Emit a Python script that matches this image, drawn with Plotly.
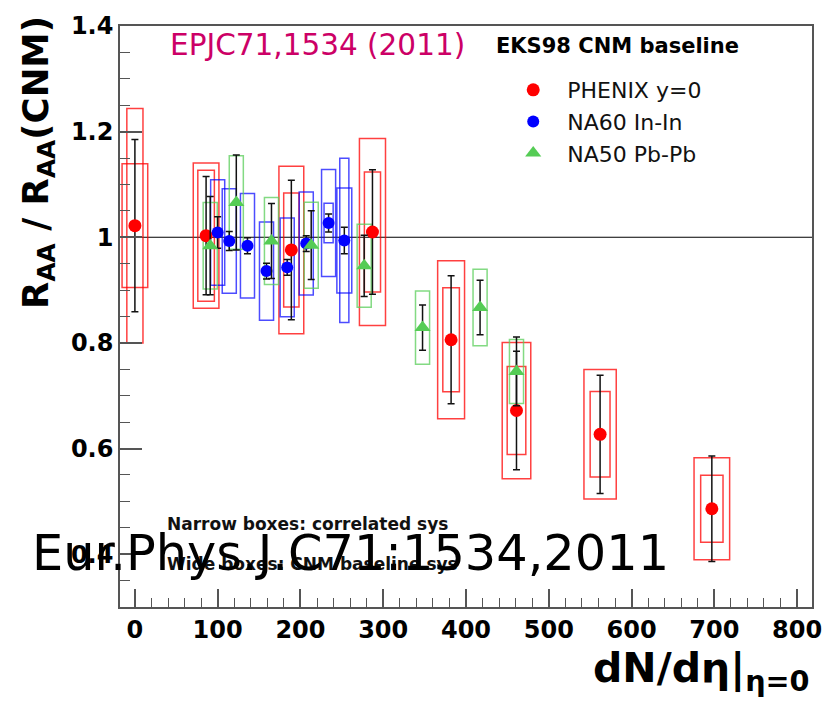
import plotly.graph_objects as go

# ---------------- data ----------------
# PHENIX y=0 (Au+Au)
phenix_x = [0, 86, 189, 287, 382, 461, 562, 697]
phenix_y = [1.022, 1.003, 0.976, 1.010, 0.806, 0.672, 0.627, 0.486]
phenix_stat = [0.163, 0.112, 0.132, 0.118, 0.121, 0.112, 0.112, 0.100]
phenix_corr = [0.222, 0.124, 0.108, 0.1135, 0.0985, 0.0835, 0.081, 0.0635]   # narrow boxes
phenix_cnm = [0.117, 0.1375, 0.1585, 0.177, 0.1495, 0.129, 0.1225, 0.0965]   # wide boxes
phenix_corr_w = [19.5, 20, 18.5, 19.5, 20, 22.5, 24, 27]
phenix_cnm_w = [31, 31, 30, 31.5, 32.5, 34.5, 39, 43]

# NA60 In-In
na60_x = [100, 114, 136, 159, 184, 207, 234, 253]
na60_y = [1.009, 0.993, 0.984, 0.936, 0.943, 0.988, 1.027, 0.994]
na60_stat = [0.030, 0.018, 0.015, 0.015, 0.015, 0.015, 0.017, 0.025]
na60_corr = [None, None, None, None, None, None, 0.0375, 0.1555]
na60_cnm = [0.100, 0.099, 0.099, 0.093, 0.0935, 0.0975, 0.1015, 0.0995]
na60_corr_w = [11, 11, 11, 11, 11, 11, 11, 11]
na60_cnm_w = [17, 17, 17, 17, 17, 17, 17, 18]

# NA50 Pb-Pb
na50_x = [91, 122.5, 165, 213, 277, 347.5, 417, 461]
na50_y = [0.984, 1.066, 0.993, 0.985, 0.946, 0.829, 0.867, 0.746]
na50_stat = [0.093, 0.090, 0.071, 0.065, 0.058, 0.043, 0.0515, 0.065]
na50_cnm = [0.082, 0.0885, 0.0825, 0.0815, 0.0785, 0.0695, 0.0725, 0.0605]
na50_cnm_w = [17, 17, 17, 17, 17, 17, 17, 17]

x_ticks = [0, 100, 200, 300, 400, 500, 600, 700, 800]
y_ticks = [0.4, 0.6, 0.8, 1.0, 1.2, 1.4]
y_ticktext = ["0.4", "0.6", "0.8", "1", "1.2", "1.4"]

FONT = "DejaVu Sans"
RED = "#ff0000"
BLUE = "#0000ff"
GREEN = "#55cc55"


def box_shapes(xs, ys, halves, widths, color):
    out = []
    for x, y, h, w in zip(xs, ys, halves, widths):
        if h is None:
            continue
        out.append(dict(type="rect", xref="x", yref="y",
                        x0=x - w / 2, x1=x + w / 2, y0=y - h, y1=y + h,
                        line=dict(color=color, width=1.5),
                        fillcolor="rgba(0,0,0,0)", layer="below"))
    return out


shapes = []
shapes += box_shapes(phenix_x, phenix_y, phenix_cnm, phenix_cnm_w, "rgba(255,0,0,0.75)")
shapes += box_shapes(phenix_x, phenix_y, phenix_corr, phenix_corr_w, "rgba(255,0,0,0.75)")
shapes += box_shapes(na60_x, na60_y, na60_cnm, na60_cnm_w, "rgba(0,0,255,0.7)")
shapes += box_shapes(na60_x, na60_y, na60_corr, na60_corr_w, "rgba(0,0,255,0.7)")
shapes += box_shapes(na50_x, na50_y, na50_cnm, na50_cnm_w, "rgba(90,205,90,0.75)")
shapes.append(dict(type="line", xref="paper", yref="y", x0=0, x1=1, y0=1, y1=1,
                   line=dict(color="#000000", width=1.2), layer="below"))

err_style = dict(type="data", color="#111111", thickness=1.5, width=3.5)

fig = go.Figure()
fig.add_trace(go.Scatter(
    x=phenix_x, y=phenix_y, mode="markers", name="PHENIX y=0", legendgroup="a",
    marker=dict(symbol="circle", size=13, color=RED, line=dict(width=0)),
    error_y=dict(array=phenix_stat, **err_style)))
fig.add_trace(go.Scatter(
    x=na60_x, y=na60_y, mode="markers", name="NA60 In-In", legendgroup="b",
    marker=dict(symbol="circle", size=12, color=BLUE, line=dict(width=0)),
    error_y=dict(array=na60_stat, **err_style)))
fig.add_trace(go.Scatter(
    x=na50_x, y=na50_y, mode="markers", name="NA50 Pb-Pb", legendgroup="c",
    marker=dict(symbol="triangle-up", size=14, color=GREEN, line=dict(width=0)),
    error_y=dict(array=na50_stat, **err_style)))

annotations = [
    dict(text="EPJC71,1534 (2011)", x=0.069, y=0.968, xref="paper", yref="paper",
         xanchor="left", yanchor="middle", showarrow=False,
         font=dict(family=FONT, size=29.5, color="#cc0066")),
    dict(text="<b>EKS98 CNM baseline</b>", x=0.540, y=0.966, xref="paper", yref="paper",
         xanchor="left", yanchor="middle", showarrow=False,
         font=dict(family=FONT, size=21, color="#000000")),
    dict(text="<b>Narrow boxes: correlated sys</b>", x=0.065, y=0.1426, xref="paper", yref="paper",
         xanchor="left", yanchor="middle", showarrow=False,
         font=dict(family=FONT, size=17, color="#111111")),
    dict(text="<b>Wide boxes: CNM baseline sys</b>", x=0.065, y=0.0747, xref="paper", yref="paper",
         xanchor="left", yanchor="middle", showarrow=False,
         font=dict(family=FONT, size=17, color="#111111")),
    dict(text="<b>R<sub>AA</sub> / R<sub>AA</sub>(CNM)</b>", x=-0.1185, y=0.766,
         xref="paper", yref="paper", xanchor="center", yanchor="middle", textangle=-90,
         showarrow=False, font=dict(family=FONT, size=35.5, color="#000000")),
    dict(text="<b>dN/dη|<sub>η=0</sub></b>", x=1.0, y=-0.11, xref="paper", yref="paper",
         xanchor="right", yanchor="middle", showarrow=False,
         font=dict(family=FONT, size=41, color="#000000")),
    dict(text="Eur.Phys.J.C71:1534,2011", x=-0.130, y=0.0934, xref="paper", yref="paper",
         xanchor="left", yanchor="middle", showarrow=False,
         font=dict(family=FONT, size=49.4, color="#000000")),
]

axis_common = dict(showgrid=False, zeroline=False, showline=True, mirror=True,
                   linecolor="#555555", linewidth=1.5, ticks="inside",
                   tickcolor="#555555", tickwidth=1.5)

fig.update_layout(
    width=838, height=702,
    margin=dict(l=120, r=26, t=18, b=95),
    paper_bgcolor="white", plot_bgcolor="white",
    showlegend=True,
    legend=dict(x=0.548, y=0.926, xanchor="left", yanchor="top",
                font=dict(family=FONT, size=22, color="#111111"),
                bgcolor="rgba(0,0,0,0)", itemwidth=58, tracegroupgap=4,
                traceorder="normal"),
    xaxis=dict(range=[-18, 818], tickvals=x_ticks, ticklen=18,
               minor=dict(dtick=20, ticklen=9, ticks="inside", tickcolor="#555555", tickwidth=1.2),
               tickfont=dict(family=FONT, size=24, color="#000000", weight="bold"),
               **axis_common),
    yaxis=dict(range=[0.3, 1.4], tickvals=y_ticks, ticktext=y_ticktext, ticklen=22,
               minor=dict(dtick=0.05, tick0=0, ticklen=10, ticks="inside", tickcolor="#555555", tickwidth=1.2),
               tickfont=dict(family=FONT, size=24, color="#000000", weight="bold"),
               **axis_common),
    shapes=shapes,
    annotations=annotations,
)

fig.write_html("out.html")
